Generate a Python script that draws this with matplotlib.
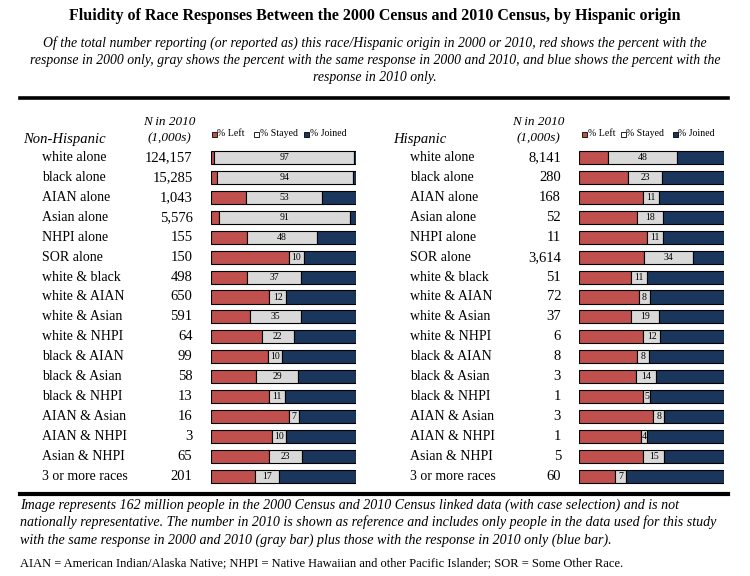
import matplotlib
matplotlib.use("Agg")
import matplotlib.pyplot as plt
from matplotlib.transforms import blended_transform_factory
from matplotlib.lines import Line2D
from matplotlib.patches import Rectangle

plt.rcParams['font.family'] = ['Liberation Serif', 'DejaVu Serif']

categories = ["white alone", "black alone", "AIAN alone", "Asian alone", "NHPI alone",
              "SOR alone", "white & black", "white & AIAN", "white & Asian", "white & NHPI",
              "black & AIAN", "black & Asian", "black & NHPI", "AIAN & Asian", "AIAN & NHPI",
              "Asian & NHPI", "3 or more races"]

nh_n = ["124,157", "15,285", "1,043", "5,576", "155", "150", "498", "650", "591", "64",
        "99", "58", "13", "16", "3", "65", "201"]
nh_left = [2, 4, 24, 5, 25, 54, 25, 40, 27, 35, 39, 31, 40, 54, 42, 40, 30]
nh_stayed = [97, 94, 53, 91, 48, 10, 37, 12, 35, 22, 10, 29, 11, 7, 10, 23, 17]
nh_joined = [1, 2, 23, 4, 27, 36, 38, 48, 38, 43, 51, 40, 49, 39, 48, 37, 53]

h_n = ["8,141", "280", "168", "52", "11", "3,614", "51", "72", "37", "6",
       "8", "3", "1", "3", "1", "5", "60"]
h_left = [20, 34, 44, 40, 47, 45, 36, 41, 36, 44, 40, 39, 44, 51, 43, 44, 25]
h_stayed = [48, 23, 11, 18, 11, 34, 11, 8, 19, 12, 8, 14, 5, 8, 4, 15, 7]
h_joined = [32, 43, 45, 42, 42, 21, 53, 51, 45, 44, 52, 47, 51, 41, 53, 41, 68]

legend_labels = ["% Left", "% Stayed", "% Joined"]

RED = "#C0504D"
GRAY = "#D9D9D9"
NAVY = "#1B365D"

W, H = 750, 576
fig = plt.figure(figsize=(W / 100, H / 100), dpi=100)

def fx(px):
    return px / W

def fy(py):
    return 1 - py / H

# Title and subtitle
fig.text(0.5, fy(16), "Fluidity of Race Responses Between the 2000 Census and 2010 Census, by Hispanic origin",
         ha="center", va="center", fontsize=11.5, fontweight="bold")
sub = ["Of the total number reporting (or reported as) this race/Hispanic origin in 2000 or 2010, red shows the percent with the",
       "response in 2000 only, gray shows the percent with the same response in 2000 and 2010, and blue shows the percent with the",
       "response in 2010 only."]
for i, s in enumerate(sub):
    fig.text(0.5, fy(43 + 17.5 * i), s, ha="center", va="center", fontsize=9.9, style="italic")

# thick rules
fig.add_artist(Line2D([fx(20), fx(728)], [fy(97.5), fy(97.5)], color="black", lw=2.6))
fig.add_artist(Line2D([fx(20), fx(728)], [fy(493.5), fy(493.5)], color="black", lw=3.0))

row0, rowstep = 157.7, 19.9
ax_top = row0 - 0.5 * rowstep
ax_bot = row0 + 16.5 * rowstep

def panel(x0, x1, title, title_x, label_x, n_right, nhead_x, legend_xs, nvals, left, stayed, joined):
    ax = fig.add_axes([fx(x0), fy(ax_bot), fx(x1) - fx(x0), fy(ax_top) - fy(ax_bot)])
    ax.set_xlim(0, 100)
    ax.set_ylim(16.5, -0.5)
    ax.axis("off")
    ys = list(range(len(categories)))
    h = 0.66
    ax.barh(ys, left, height=h, color=RED, edgecolor="black", linewidth=0.8)
    ax.barh(ys, stayed, left=left, height=h, color=GRAY, edgecolor="black", linewidth=0.8)
    lj = [a + b for a, b in zip(left, stayed)]
    ax.barh(ys, joined, left=lj, height=h, color=NAVY, edgecolor="black", linewidth=0.8)
    for y, l, s in zip(ys, left, stayed):
        ax.text(l + s / 2, y, str(s), ha="center", va="center", fontsize=7)
    tr = blended_transform_factory(fig.transFigure, ax.transData)
    for y, c, n in zip(ys, categories, nvals):
        ax.text(fx(label_x), y, c, transform=tr, ha="left", va="center", fontsize=10)
        ax.text(fx(n_right), y, n, transform=tr, ha="right", va="center", fontsize=10.5)
    fig.text(fx(title_x), fy(139), title, ha="left", va="center", fontsize=10.5, style="italic")
    fig.text(fx(nhead_x), fy(122), "N in 2010", ha="center", va="center", fontsize=9.5, style="italic")
    fig.text(fx(nhead_x), fy(138), "(1,000s)", ha="center", va="center", fontsize=9.5, style="italic")
    for (sx, tx), lab, col in zip(legend_xs, legend_labels, [RED, "white", NAVY]):
        fig.add_artist(Rectangle((fx(sx), fy(136.5)), fx(4.5), fy(131.5) - fy(136.5),
                                 facecolor=col, edgecolor="black", linewidth=0.6))
        fig.text(fx(tx), fy(133.5), lab, ha="left", va="center", fontsize=7.1)
    return ax

panel(211.5, 355.5, "Non-Hispanic", 23, 42, 192.5, 169,
      [(212, 217.5), (254, 259.5), (304, 309.5)], nh_n, nh_left, nh_stayed, nh_joined)
panel(579.3, 723.7, "Hispanic", 393, 410, 561, 538,
      [(582, 587.5), (621, 626.5), (673, 678.5)], h_n, h_left, h_stayed, h_joined)

foot = ["Image represents 162 million people in the 2000 Census and 2010 Census linked data (with case selection) and is not",
        "nationally representative. The number in 2010 is shown as reference and includes only people in the data used for this study",
        "with the same response in 2000 and 2010 (gray bar) plus those with the response in 2010 only (blue bar)."]
for i, s in enumerate(foot):
    fig.text(fx(20), fy(505 + 17.5 * i), s, ha="left", va="center", fontsize=10.1, style="italic")
fig.text(fx(20), fy(563), "AIAN = American Indian/Alaska Native; NHPI = Native Hawaiian and other Pacific Islander; SOR = Some Other Race.",
         ha="left", va="center", fontsize=9)

fig.savefig("out.png", dpi=100)
